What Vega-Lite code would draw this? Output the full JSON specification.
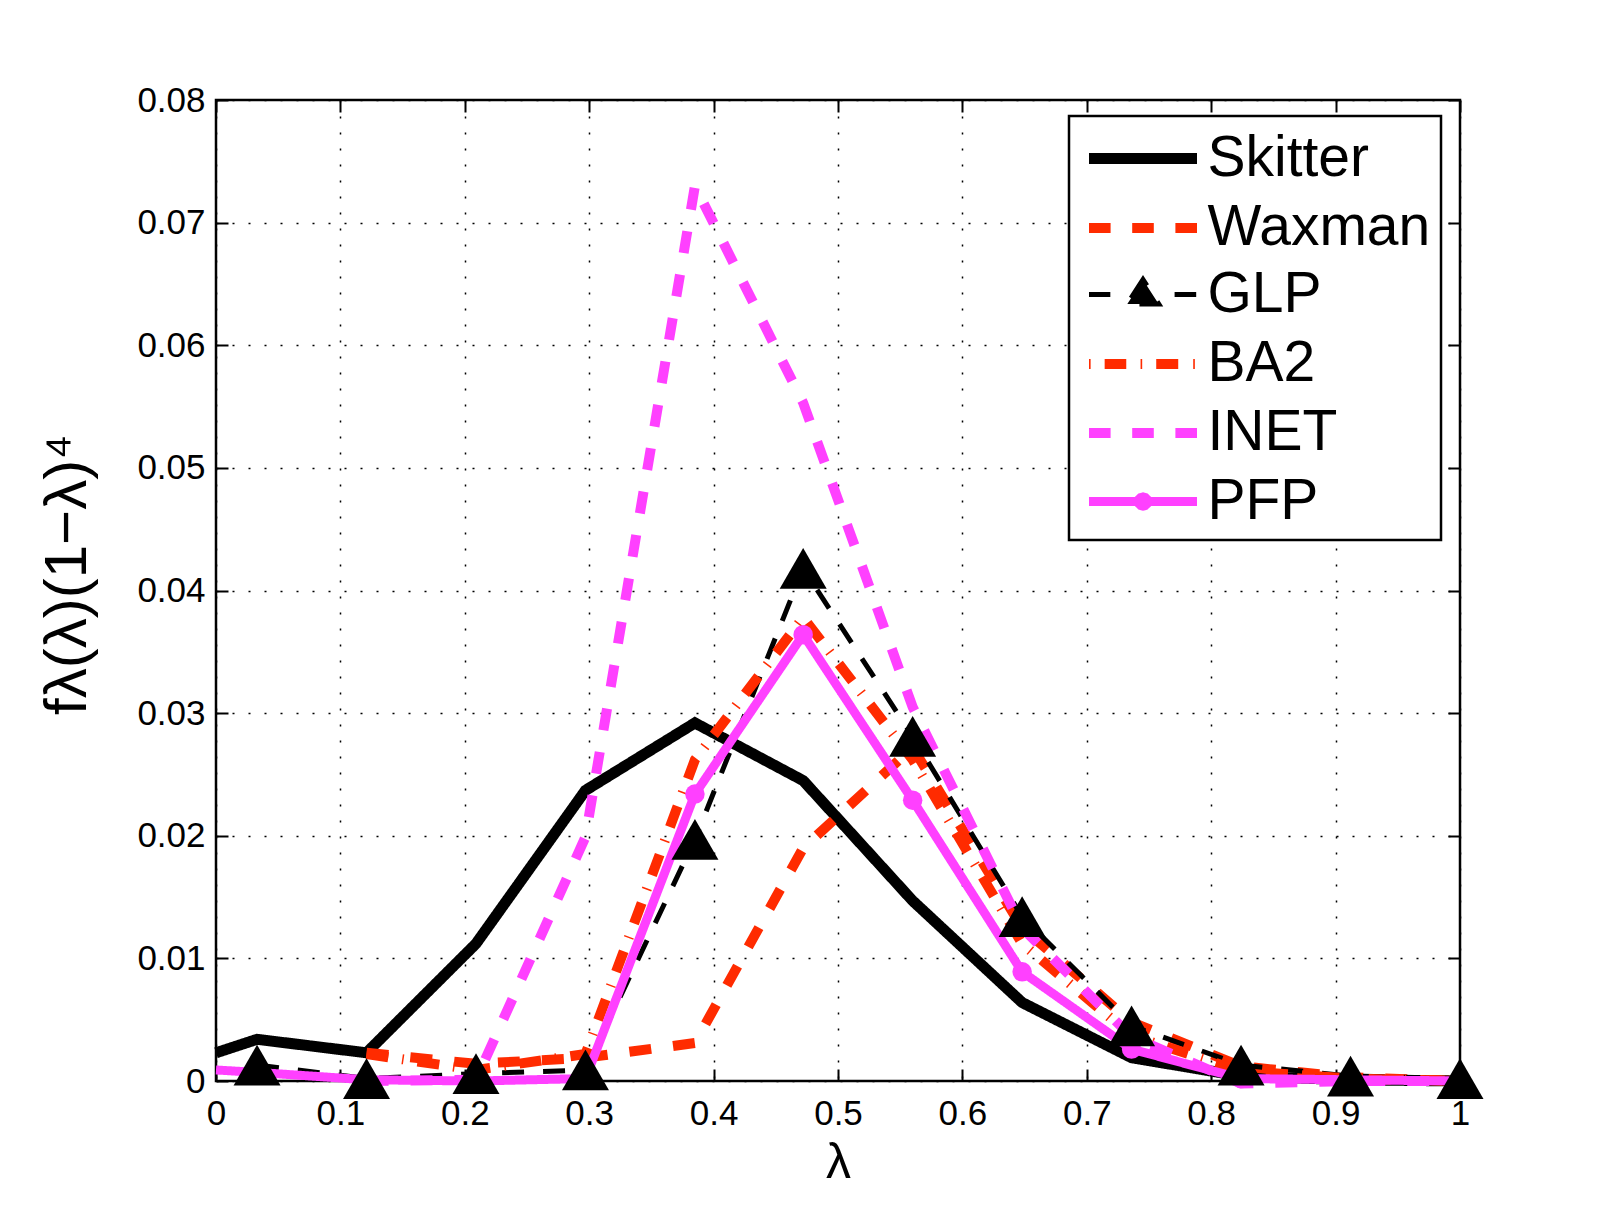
{
  "$schema": "https://vega.github.io/schema/vega-lite/v6.json",
  "width": 1244,
  "height": 981,
  "autosize": {"type": "none"},
  "padding": {"left": 216, "top": 100, "right": 151, "bottom": 130},
  "background": "white",
  "config": {
    "font": "Liberation Sans",
    "view": {"stroke": "black", "strokeWidth": 2.5}
  },
  "data": {
    "values": [
      {"series": "Skitter", "x": 0, "y": 0.0023},
      {"series": "Skitter", "x": 0.033, "y": 0.0034},
      {"series": "Skitter", "x": 0.121, "y": 0.0023},
      {"series": "Skitter", "x": 0.209, "y": 0.0112},
      {"series": "Skitter", "x": 0.297, "y": 0.0237},
      {"series": "Skitter", "x": 0.385, "y": 0.0292},
      {"series": "Skitter", "x": 0.472, "y": 0.0245},
      {"series": "Skitter", "x": 0.56, "y": 0.0147},
      {"series": "Skitter", "x": 0.648, "y": 0.0064},
      {"series": "Skitter", "x": 0.736, "y": 0.0019},
      {"series": "Skitter", "x": 0.824, "y": 0.0004},
      {"series": "Skitter", "x": 0.912, "y": 0.0001},
      {"series": "Skitter", "x": 1.0, "y": 0.0},
      {"series": "Waxman", "x": 0.121, "y": 0.0023},
      {"series": "Waxman", "x": 0.209, "y": 0.0014},
      {"series": "Waxman", "x": 0.297, "y": 0.0019},
      {"series": "Waxman", "x": 0.385, "y": 0.0031},
      {"series": "Waxman", "x": 0.472, "y": 0.019},
      {"series": "Waxman", "x": 0.56, "y": 0.0272},
      {"series": "Waxman", "x": 0.648, "y": 0.0125},
      {"series": "Waxman", "x": 0.736, "y": 0.0048},
      {"series": "Waxman", "x": 0.824, "y": 0.0012},
      {"series": "Waxman", "x": 0.912, "y": 0.0003},
      {"series": "Waxman", "x": 1.0, "y": 0.0},
      {"series": "GLP", "x": 0.033, "y": 0.0013},
      {"series": "GLP", "x": 0.121, "y": 0.0002},
      {"series": "GLP", "x": 0.209, "y": 0.0006},
      {"series": "GLP", "x": 0.297, "y": 0.0009},
      {"series": "GLP", "x": 0.385, "y": 0.0197},
      {"series": "GLP", "x": 0.472, "y": 0.0418},
      {"series": "GLP", "x": 0.56, "y": 0.0281},
      {"series": "GLP", "x": 0.648, "y": 0.0134},
      {"series": "GLP", "x": 0.736, "y": 0.0045},
      {"series": "GLP", "x": 0.824, "y": 0.0013},
      {"series": "GLP", "x": 0.912, "y": 0.0004},
      {"series": "GLP", "x": 1.0, "y": 0.0002},
      {"series": "BA2", "x": 0.121, "y": 0.0022},
      {"series": "BA2", "x": 0.209, "y": 0.0009},
      {"series": "BA2", "x": 0.297, "y": 0.0022},
      {"series": "BA2", "x": 0.385, "y": 0.0262},
      {"series": "BA2", "x": 0.472, "y": 0.0378},
      {"series": "BA2", "x": 0.56, "y": 0.0262},
      {"series": "BA2", "x": 0.648, "y": 0.0112},
      {"series": "BA2", "x": 0.736, "y": 0.0037},
      {"series": "BA2", "x": 0.824, "y": 0.0008},
      {"series": "BA2", "x": 0.912, "y": 0.0002},
      {"series": "BA2", "x": 1.0, "y": 0.0},
      {"series": "INET", "x": 0.121, "y": 0.0},
      {"series": "INET", "x": 0.209, "y": 0.0001},
      {"series": "INET", "x": 0.297, "y": 0.0199},
      {"series": "INET", "x": 0.385, "y": 0.073},
      {"series": "INET", "x": 0.472, "y": 0.0553},
      {"series": "INET", "x": 0.56, "y": 0.0305},
      {"series": "INET", "x": 0.648, "y": 0.0125},
      {"series": "INET", "x": 0.736, "y": 0.0036},
      {"series": "INET", "x": 0.824, "y": -0.0002},
      {"series": "INET", "x": 0.912, "y": 0.0},
      {"series": "INET", "x": 1.0, "y": 0.0},
      {"series": "PFP", "x": 0, "y": 0.0009},
      {"series": "PFP", "x": 0.033, "y": 0.0007},
      {"series": "PFP", "x": 0.121, "y": 0.0001},
      {"series": "PFP", "x": 0.209, "y": 0.0},
      {"series": "PFP", "x": 0.297, "y": 0.0002},
      {"series": "PFP", "x": 0.385, "y": 0.0234},
      {"series": "PFP", "x": 0.472, "y": 0.0364},
      {"series": "PFP", "x": 0.56, "y": 0.0229},
      {"series": "PFP", "x": 0.648, "y": 0.0089},
      {"series": "PFP", "x": 0.736, "y": 0.0026},
      {"series": "PFP", "x": 0.824, "y": 0.0002},
      {"series": "PFP", "x": 0.912, "y": 0.0001},
      {"series": "PFP", "x": 1.0, "y": 0.0}
    ]
  },
  "layer": [
    {
      "mark": {"type": "line", "strokeJoin": "miter"},
      "encoding": {
        "x": {
          "field": "x", "type": "quantitative",
          "scale": {"domain": [0, 1], "nice": false, "zero": false},
          "axis": {
            "orient": "bottom",
            "values": [0, 0.1, 0.2, 0.3, 0.4, 0.5, 0.6, 0.7, 0.8, 0.9, 1],
            "format": ".1~f",
            "labelFlush": false, "labelOverlap": false,
            "labelFont": "Liberation Sans", "labelFontSize": 35, "labelColor": "black",
            "labelPadding": 27,
            "tickSize": -12, "tickWidth": 2, "tickColor": "black",
            "domain": false,
            "grid": true, "gridColor": "black", "gridDash": [2, 14], "gridWidth": 1.5, "gridOpacity": 1,
            "title": "λ", "titleFont": "Liberation Sans", "titleFontSize": 50, "titleFontWeight": "normal", "titleColor": "black", "titlePadding": 6
          }
        },
        "y": {
          "field": "y", "type": "quantitative",
          "scale": {"domain": [0, 0.08], "nice": false, "zero": false},
          "axis": {
            "orient": "left",
            "values": [0, 0.01, 0.02, 0.03, 0.04, 0.05, 0.06, 0.07, 0.08],
            "format": ".2~f",
            "labelFlush": false, "labelOverlap": false,
            "labelFont": "Liberation Sans", "labelFontSize": 35, "labelColor": "black",
            "labelPadding": 23,
            "tickSize": -12, "tickWidth": 2, "tickColor": "black",
            "domain": false,
            "grid": true, "gridColor": "black", "gridDash": [2, 14], "gridWidth": 1.5, "gridOpacity": 1,
            "title": "fλ(λ)(1−λ)⁴", "titleFont": "Liberation Sans", "titleFontSize": 60, "titleFontWeight": "normal", "titleColor": "black", "titlePadding": 38, "titleY": 474
          }
        },
        "color": {
          "field": "series", "type": "nominal",
          "scale": {
            "domain": ["Skitter", "Waxman", "GLP", "BA2", "INET", "PFP"],
            "range": ["#000000", "#FF2B00", "#000000", "#FF2B00", "#FF40FF", "#FF40FF"]
          },
          "legend": {
            "orient": "none", "legendX": 853, "legendY": 16,
            "title": null,
            "direction": "vertical",
            "labelFont": "Liberation Sans", "labelFontSize": 57, "labelColor": "black", "labelLimit": 500,
            "symbolSize": 2916, "symbolStrokeWidth": 1.5, "symbolType": "stroke",
            "symbolOffset": 31.5, "labelOffset": 32,
            "rowPadding": 9, "padding": 10,
            "strokeColor": "black", "fillColor": "white",
            "encode": {
              "legend": {"update": {"strokeWidth": {"value": 2.5}}},
              "symbols": {
                "update": {
                  "shape": {"signal": "datum.value === 'Skitter' ? 'M-2,0H2' : (datum.value === 'Waxman' || datum.value === 'INET') ? 'M-2,0H-1.2M-0.4,0H0.4M1.2,0H2' : datum.value === 'GLP' ? 'M-2,0H-1.21M1.17,0H1.97M0,-0.55L-0.58,0.35L0.58,0.35Z' : datum.value === 'BA2' ? 'M-2,0H-1.94M-1.42,0H-0.62M-0.09,0H-0.03M0.49,0H1.32M1.86,0H1.92' : 'M-2,0H2M0.17,0L0.147,0.085L0.085,0.147L0,0.17L-0.085,0.147L-0.147,0.085L-0.17,0L-0.147,-0.085L-0.085,-0.147L0,-0.17L0.085,-0.147L0.147,-0.085Z'"},
                  "strokeWidth": {"signal": "datum.value === 'Skitter' ? 13 : datum.value === 'GLP' ? 6 : 10"},
                  "fill": {"signal": "datum.value === 'GLP' ? '#000000' : datum.value === 'PFP' ? '#FF40FF' : 'transparent'"},
                  "opacity": {"value": 1}
                }
              }
            }
          }
        },
        "strokeDash": {
          "field": "series", "type": "nominal",
          "scale": {
            "domain": ["Skitter", "Waxman", "GLP", "BA2", "INET", "PFP"],
            "range": [[1, 0], [22, 22], [22, 19], [22, 14, 1.5, 14], [22, 22], [1, 0]]
          },
          "legend": null
        },
        "strokeWidth": {
          "field": "series", "type": "nominal",
          "scale": {
            "type": "ordinal",
            "domain": ["Skitter", "Waxman", "GLP", "BA2", "INET", "PFP"],
            "range": [11, 10, 5, 10, 10, 9]
          },
          "legend": null
        }
      }
    },
    {
      "transform": [{"filter": "datum.series === 'PFP' && datum.x > 0"}],
      "mark": {"type": "point", "shape": "circle", "filled": true, "color": "#FF40FF", "size": 380, "opacity": 1},
      "encoding": {
        "x": {"field": "x", "type": "quantitative", "axis": null},
        "y": {"field": "y", "type": "quantitative", "axis": null}
      }
    },
    {
      "transform": [{"filter": "datum.series === 'GLP'"}],
      "mark": {"type": "point", "shape": "triangle-up", "filled": true, "color": "#000000", "size": 2209, "opacity": 1},
      "encoding": {
        "x": {
          "field": "x", "type": "quantitative",
          "axis": {
            "orient": "top", "values": [0, 0.1, 0.2, 0.3, 0.4, 0.5, 0.6, 0.7, 0.8, 0.9, 1],
            "labels": false, "domain": false, "grid": false, "title": null,
            "tickSize": -12, "tickWidth": 2, "tickColor": "black"
          }
        },
        "y": {
          "field": "y", "type": "quantitative",
          "axis": {
            "orient": "right", "values": [0, 0.01, 0.02, 0.03, 0.04, 0.05, 0.06, 0.07, 0.08],
            "labels": false, "domain": false, "grid": false, "title": null,
            "tickSize": -12, "tickWidth": 2, "tickColor": "black"
          }
        }
      }
    }
  ],
  "resolve": {"axis": {"x": "independent", "y": "independent"}}
}
